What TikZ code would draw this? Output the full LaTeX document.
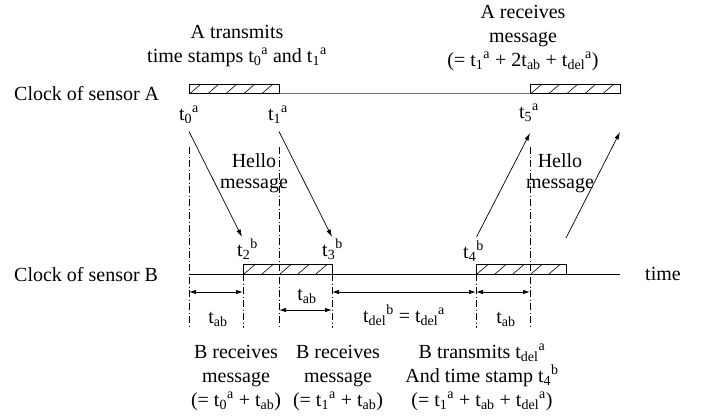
\documentclass[tikz,border=0pt]{standalone}
\usepackage{fontspec}
\setmainfont{Liberation Serif}
\usetikzlibrary{arrows.meta}
\begin{document}
\begin{tikzpicture}[x=1pt,y=-1pt,
  font=\fontsize{20}{24}\selectfont,
  lbl/.style={inner sep=0pt, anchor=base, align=center},
  lblw/.style={inner sep=0pt, anchor=base west},
  msg/.style={-{Latex[length=7.5pt,width=4.5pt]}, line width=0.7pt},
  dim/.style={{Latex[length=7pt,width=4.5pt]}-{Latex[length=7pt,width=4.5pt]}, line width=0.9pt},
  guide/.style={line width=0.7pt, dash pattern=on 7pt off 2.5pt on 1pt off 2.5pt},
  slot/.style={draw, line width=0.8pt, inner sep=0pt, outer sep=0pt,
    minimum height=9.5pt, anchor=south west,
    path picture={
      \foreach \k in {0,...,4}{
        \draw[line width=0.6pt] ([xshift=\k*18pt+1pt]path picture bounding box.south west) -- ++(11pt,9.5pt);
      }}},
]
\useasboundingbox (0,0) rectangle (717,420);

% timelines
\coordinate (As) at (189,93.5);
\coordinate (Ae) at (620,93.5);
\coordinate (Bs) at (189,274);
\coordinate (Be) at (620,274);
\draw[line width=0.9pt, black!55] (As) -- (Ae);
\draw[line width=0.9pt] (Bs) -- (Be);

% slots
\node[slot, minimum width=90pt] (boxA1) at (189,93.5) {};
\node[slot, minimum width=90pt] (boxA2) at (530,93.5) {};
\node[slot, minimum width=89pt] (boxB1) at (243,274) {};
\node[slot, minimum width=90pt] (boxB2) at (476,274) {};

% guide lines
\coordinate (g1t) at (189,147);  \coordinate (g1b) at (189,328);
\coordinate (g2t) at (279,147);  \coordinate (g2b) at (279,328);
\coordinate (g3t) at (243,274);  \coordinate (g3b) at (243,328);
\coordinate (g4t) at (332,274);  \coordinate (g4b) at (332,328);
\coordinate (g5t) at (476,274);  \coordinate (g5b) at (476,328);
\coordinate (g6t) at (530,147);  \coordinate (g6b) at (530,328);
\foreach \g in {1,...,6}{\draw[guide] (g\g t) -- (g\g b);}

% messages
\coordinate (m1s) at (189,131.5); \coordinate (m1e) at (242,237);
\coordinate (m2s) at (279,131.5); \coordinate (m2e) at (332,237);
\coordinate (m3s) at (476.5,237); \coordinate (m3e) at (530,133);
\coordinate (m4s) at (566,238);   \coordinate (m4e) at (620,132);
\draw[msg] (m1s) -- (m1e);
\draw[msg] (m2s) -- (m2e);
\draw[msg] (m3s) -- (m3e);
\draw[msg] (m4s) -- (m4e);

% dimension arrows
\coordinate (d1a) at (189,292); \coordinate (d1b) at (243,292);
\coordinate (d2a) at (279,310); \coordinate (d2b) at (332,310);
\coordinate (d3a) at (332,292); \coordinate (d3b) at (476,292);
\coordinate (d4a) at (476,292); \coordinate (d4b) at (530,292);
\draw[dim] (d1a) -- (d1b);
\draw[dim] (d2a) -- (d2b);
\draw[dim] (d3a) -- (d3b);
\draw[dim] (d4a) -- (d4b);

% labels
\node[lblw] (clkA) at (14,100) {Clock of sensor A};
\node[lblw] (clkB) at (14,281.5) {Clock of sensor B};
\node[lblw] (time) at (645,280) {time};

\node[lbl, font=\fontsize{20}{24.5}\selectfont] (atx) at (237,62.5) {A transmits\\time stamps t\textsubscript{0}\textsuperscript{a} and t\textsubscript{1}\textsuperscript{a}};
\node[lbl] (arx) at (523,66.5) {A receives\\message\\(= t\textsubscript{1}\textsuperscript{a} + 2t\textsubscript{ab} + t\textsubscript{del}\textsuperscript{a})};

\node[lbl] (t0a) at (189,120.5) {t\textsubscript{0}\textsuperscript{a}};
\node[lbl] (t1a) at (278,120.5) {t\textsubscript{1}\textsuperscript{a}};
\node[lbl] (t5a) at (529,118) {t\textsubscript{5}\textsuperscript{a}};
\node[lbl] (t2b) at (247.5,256) {t\textsubscript{2}\textsuperscript{b}};
\node[lbl] (t3b) at (332.5,256) {t\textsubscript{3}\textsuperscript{b}};
\node[lbl] (t4b) at (473.5,258) {t\textsubscript{4}\textsuperscript{b}};

\node[lbl, font=\fontsize{20}{21}\selectfont] (hello1) at (254,188.3) {Hello\\message};
\node[lbl, font=\fontsize{20}{21}\selectfont] (hello2) at (560,188.3) {Hello\\message};

\node[lbl] (tab1) at (218,323) {t\textsubscript{ab}};
\node[lbl] (tab2) at (307,300.5) {t\textsubscript{ab}};
\node[lbl] (tdel) at (404,322.5) {t\textsubscript{del}\textsuperscript{b} = t\textsubscript{del}\textsuperscript{a}};
\node[lbl] (tab3) at (506,323) {t\textsubscript{ab}};

\node[lbl] (brx1) at (236,406) {B receives\\message\\(= t\textsubscript{0}\textsuperscript{a} + t\textsubscript{ab})};
\node[lbl] (brx2) at (338,406) {B receives\\message\\(= t\textsubscript{1}\textsuperscript{a} + t\textsubscript{ab})};
\node[lbl] (btx) at (482,406) {B transmits t\textsubscript{del}\textsuperscript{a}\\And time stamp t\textsubscript{4}\textsuperscript{b}\\(= t\textsubscript{1}\textsuperscript{a} + t\textsubscript{ab} + t\textsubscript{del}\textsuperscript{a})};
\end{tikzpicture}
\end{document}
